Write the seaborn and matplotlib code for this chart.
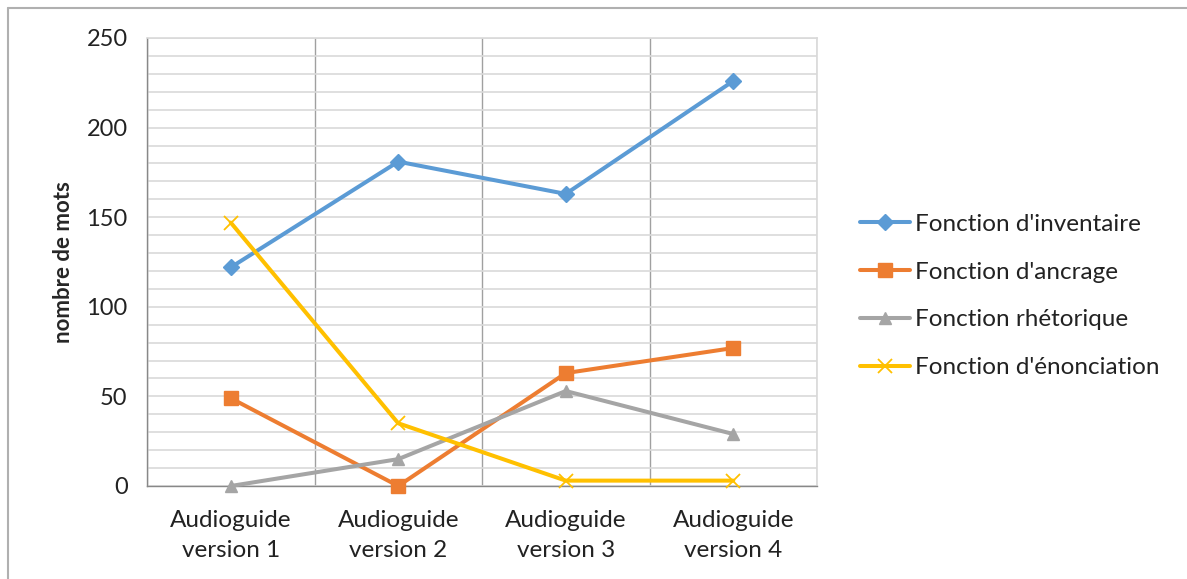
import pandas as pd
import seaborn as sns
import matplotlib.pyplot as plt
from matplotlib.lines import Line2D

# données
versions = ['Audioguide\nversion 1', 'Audioguide\nversion 2',
            'Audioguide\nversion 3', 'Audioguide\nversion 4']
fonctions = ["Fonction d'inventaire", "Fonction d'ancrage",
             "Fonction rhétorique", "Fonction d'énonciation"]
inventaire = [122, 181, 163, 226]
ancrage = [49, 0, 63, 77]
rhetorique = [0, 15, 53, 29]
enonciation = [147, 35, 3, 3]

couleurs = ['#5B9BD5', '#ED7D31', '#A5A5A5', '#FFC000']
marqueurs = ['D', 's', '^', 'x']
tailles = [8, 9.5, 9, 10]

rows = []
for nom, vals in zip(fonctions, [inventaire, ancrage, rhetorique, enonciation]):
    for v, n in zip(versions, vals):
        rows.append({'version': v, 'mots': n, 'fonction': nom})
df = pd.DataFrame(rows)

sns.set_style('white')
plt.rcParams['font.family'] = ['Lato', 'DejaVu Sans']

fig = plt.figure(figsize=(11.87, 5.79), dpi=100)
ax = fig.add_axes([147 / 1187, 1 - 486 / 579, 670 / 1187, 448 / 579])

handles = []
for nom, c, m, t in zip(fonctions, couleurs, marqueurs, tailles):
    sub = df[df['fonction'] == nom]
    sns.lineplot(data=sub, x='version', y='mots', color=c, marker=m,
                 markersize=t, markerfacecolor=c, markeredgecolor=c,
                 markeredgewidth=1.3 if m == 'x' else 1,
                 errorbar=None, sort=False, linewidth=2.9,
                 clip_on=False, zorder=5, ax=ax)
    handles.append(ax.lines[-1])

ax.set_xlim(-0.5, 3.5)
ax.set_ylim(0, 250)
ax.set_xlabel('')
ax.set_ylabel('nombre de mots', fontsize=16, fontweight='bold', labelpad=9)

ax.set_yticks(range(0, 251, 50))
ax.set_yticks(range(0, 251, 10), minor=True)
ax.set_xticks(range(4))
ax.set_xticklabels(versions, linespacing=1.55)
ax.set_xticks([-0.5, 0.5, 1.5, 2.5, 3.5], minor=True)

ax.tick_params(axis='y', which='major', length=7, color='#888888', width=1,
               labelsize=17, labelcolor='#222222', pad=7)
ax.tick_params(axis='y', which='minor', length=0)
ax.tick_params(axis='x', which='major', length=0, labelsize=17.5,
               labelcolor='#222222', pad=17)
ax.tick_params(axis='x', which='minor', length=7, color='#888888', width=1)

ax.grid(axis='y', which='both', color='#D9D9D9', linewidth=1.2)
ax.grid(axis='x', which='minor', color='#A0A0A0', linewidth=1)
ax.set_axisbelow(True)

for s in ['top', 'right']:
    ax.spines[s].set_color('#D9D9D9')
    ax.spines[s].set_linewidth(1.2)
for s in ['left', 'bottom']:
    ax.spines[s].set_color('#888888')
    ax.spines[s].set_linewidth(1)

fig.legend(handles, fonctions, loc='center left',
           bbox_to_anchor=(838 / 1187, 1 - 296 / 579), frameon=False,
           fontsize=17.5, handlelength=2.05, handletextpad=0.22,
           labelspacing=1.1, labelcolor='#222222')

# cadre extérieur
fig.add_artist(Line2D([8 / 1187, 8 / 1187], [0, 1 - 8 / 579],
                      transform=fig.transFigure, color='#B0B0B0', linewidth=1.5))
fig.add_artist(Line2D([8 / 1187, 1], [1 - 8 / 579, 1 - 8 / 579],
                      transform=fig.transFigure, color='#B0B0B0', linewidth=1.5))

fig.savefig('out.png', dpi=100)
